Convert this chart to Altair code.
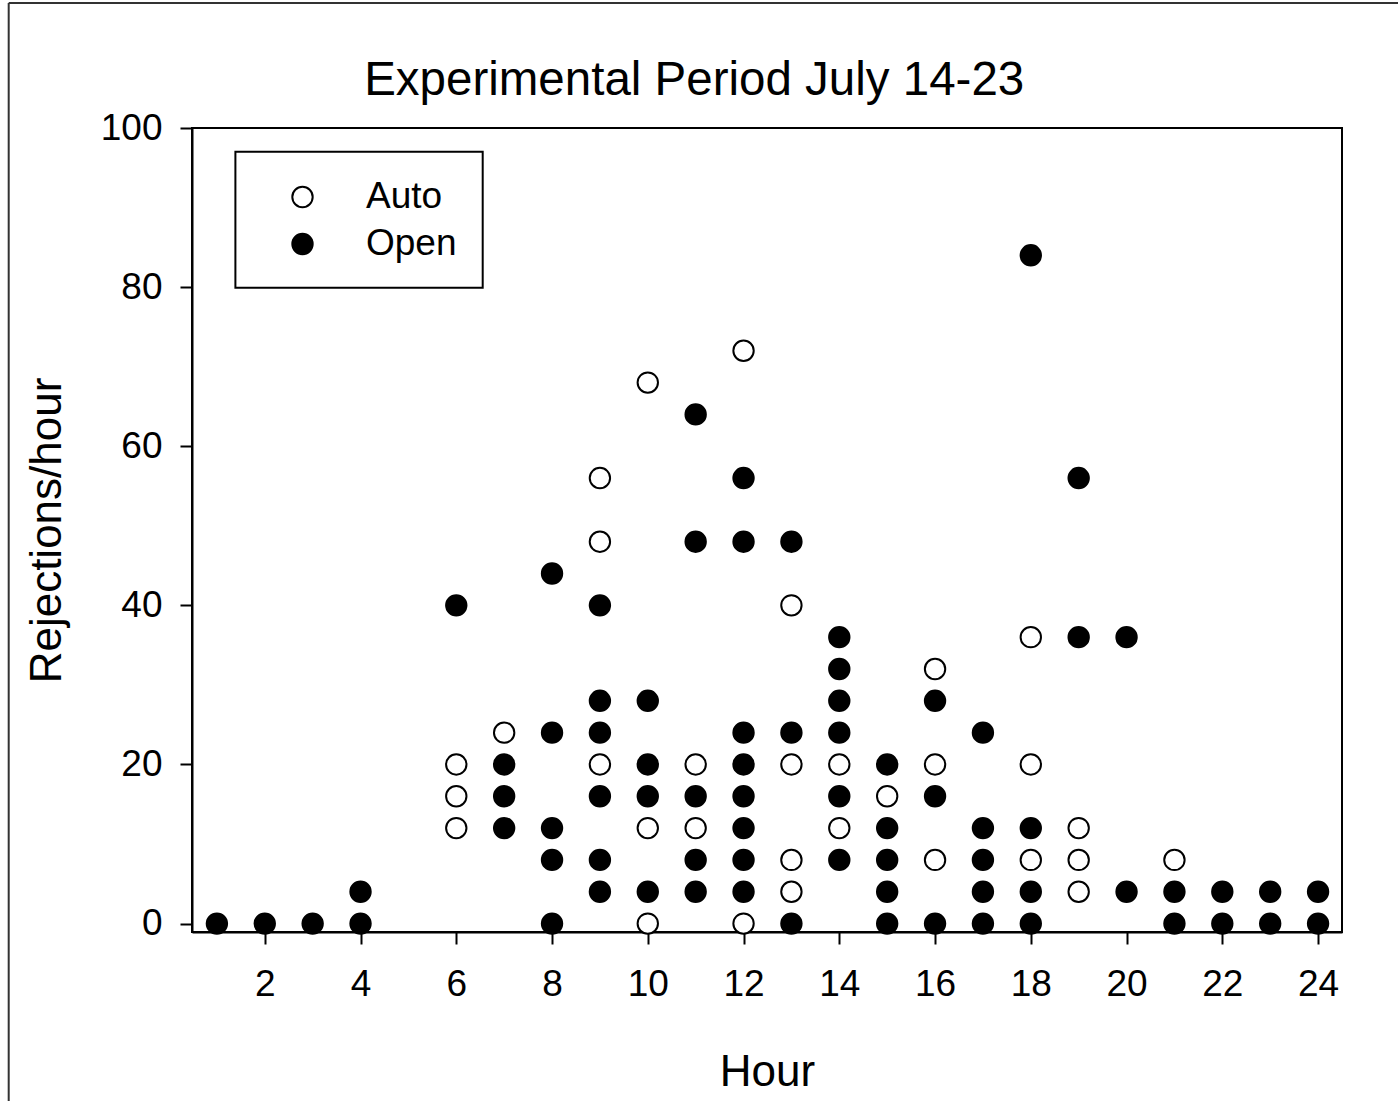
import altair as alt
import pandas as pd

# Hourly rejection counts, Experimental Period July 14-23
auto_hours = [6, 6, 6, 7, 9, 9, 9, 10, 10, 10, 11, 11, 12, 12,
              13, 13, 13, 13, 14, 14, 15, 16, 16, 16, 18, 18, 18,
              19, 19, 19, 21]
auto_values = [20, 16, 12, 24, 56, 48, 20, 68, 12, 0, 20, 12, 72, 0,
               40, 20, 8, 4, 20, 12, 16, 32, 20, 8, 36, 20, 8,
               12, 8, 4, 8]

open_hours = [1, 2, 3, 4, 4, 6, 7, 7, 7,
              8, 8, 8, 8, 8,
              9, 9, 9, 9, 9, 9,
              10, 10, 10, 10,
              11, 11, 11, 11, 11,
              12, 12, 12, 12, 12, 12, 12, 12,
              13, 13, 13,
              14, 14, 14, 14, 14, 14,
              15, 15, 15, 15, 15,
              16, 16, 16,
              17, 17, 17, 17, 17,
              18, 18, 18, 18,
              19, 19, 20, 20, 21, 21, 22, 22, 23, 23, 24, 24]
open_values = [0, 0, 0, 4, 0, 40, 20, 16, 12,
               44, 24, 12, 8, 0,
               40, 28, 24, 16, 8, 4,
               28, 20, 16, 4,
               64, 48, 16, 8, 4,
               56, 48, 24, 20, 16, 12, 8, 4,
               48, 24, 0,
               36, 32, 28, 24, 16, 8,
               20, 12, 8, 4, 0,
               28, 16, 0,
               24, 12, 8, 4, 0,
               84, 12, 4, 0,
               56, 36, 36, 4, 4, 0, 4, 0, 4, 0, 4, 0]

series_names = ["Auto", "Open"]
series_fills = ["white", "black"]
x_ticks = list(range(2, 25, 2))
y_ticks = [0, 20, 40, 60, 80, 100]
title_text = "Experimental Period July 14-23"

df = pd.concat([
    pd.DataFrame({"Hour": auto_hours, "Rate": auto_values, "Mode": "Auto"}),
    pd.DataFrame({"Hour": open_hours, "Rate": open_values, "Mode": "Open"}),
], ignore_index=True)

FONT = "Liberation Sans"
W, H = 1150, 804

points = alt.Chart(df).mark_point(
    shape="circle", filled=True, size=415, stroke="black",
    strokeWidth=2, opacity=1
).encode(
    x=alt.X("Hour:Q",
            scale=alt.Scale(domain=[0.48, 24.5], nice=False, zero=False),
            axis=alt.Axis(values=x_ticks, title="Hour", titleY=153,
                          titleBaseline="alphabetic", labelPadding=22)),
    y=alt.Y("Rate:Q",
            scale=alt.Scale(domain=[-1.06, 100], nice=False, zero=False),
            axis=alt.Axis(values=y_ticks, title="Rejections/hour",
                          titleX=-132, titleY=H / 2, titleAlign="center",
                          titleBaseline="alphabetic", labelPadding=18)),
    fill=alt.Fill("Mode:N",
                  scale=alt.Scale(domain=series_names, range=series_fills),
                  legend=alt.Legend(
                      title=None, orient="none", legendX=92, legendY=50.5,
                      symbolType="circle", symbolSize=415,
                      symbolStrokeColor="black", symbolStrokeWidth=2,
                      labelFontSize=37, labelFont=FONT, labelColor="black",
                      labelOffset=45, rowPadding=9, padding=0)),
    order=alt.Order("Mode:N"),
)

one = pd.DataFrame({"k": [0]})

# chart title
title = alt.Chart(one).mark_text(
    text=title_text, font=FONT, fontSize=47.5, color="black",
    align="center", baseline="alphabetic"
).encode(x=alt.value(502.2), y=alt.value(-33))

# legend frame
legend_box = alt.Chart(one).mark_rect(
    fill="white", fillOpacity=0, stroke="black", strokeWidth=2
).encode(
    x=alt.value(43.4), x2=alt.value(290.7),
    y=alt.value(23.7), y2=alt.value(159.7),
)

# page frame along the top and left edges
frame_top = alt.Chart(one).mark_rule(color="#333333", strokeWidth=2).encode(
    x=alt.value(-183.3), x2=alt.value(W + 60), y=alt.value(-125)
)
frame_left = alt.Chart(one).mark_rule(color="#333333", strokeWidth=2).encode(
    x=alt.value(-183.3), y=alt.value(-125), y2=alt.value(H + 200)
)

chart = alt.layer(legend_box, points, title, frame_top, frame_left).properties(
    width=W, height=H,
    autosize="none",
    padding={"left": 192, "top": 128, "right": 1398 - 192 - W,
             "bottom": 1101 - 128 - H},
).configure_view(
    stroke="black", strokeWidth=2
).configure_axis(
    grid=False, domainColor="black", domainWidth=2,
    tickColor="black", tickWidth=2, tickSize=12,
    labelFont=FONT, labelFontSize=37, labelColor="black",
    titleFont=FONT, titleFontSize=44, titleFontWeight="normal",
    titleColor="black",
)

chart.save("out.html", embed_options={"renderer": "svg", "actions": False})
